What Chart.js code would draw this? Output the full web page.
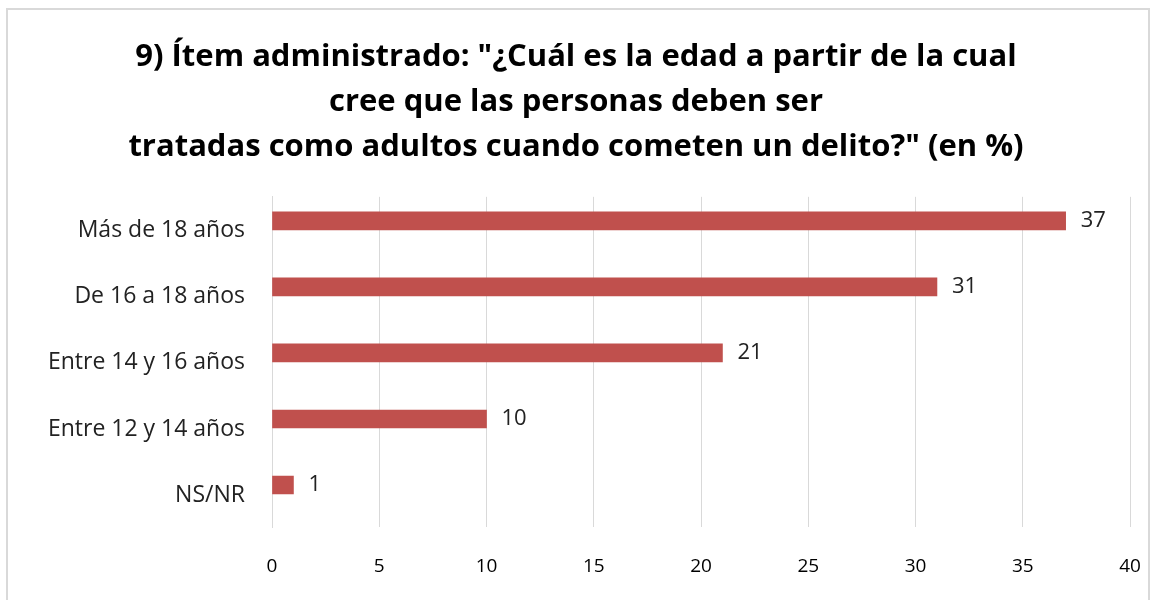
<!DOCTYPE html>
<html>
<head>
<meta charset="utf-8">
<script src="https://cdn.jsdelivr.net/npm/chart.js@4/dist/chart.umd.min.js"></script>
<style>
  body { margin: 0; background: #fff; }
  #box { position: absolute; left: 6px; top: 8px; width: 1140px; height: 590px; border: 2px solid #d9d9d9; background: #fff; }
  canvas { display: block; }
</style>
</head>
<body>
<div id="box"><canvas id="barChart" width="1140" height="590"></canvas></div>
<script>
const categories = ['Más de 18 años', 'De 16 a 18 años', 'Entre 14 y 16 años', 'Entre 12 y 14 años', 'NS/NR'];
const values = [37, 31, 21, 10, 1];
// the original sheet has a second, empty series, which pushes the bars up in each row
const emptySeries = [null, null, null, null, null];
const titleLines = [
    '9) Ítem administrado: "¿Cuál es la edad a partir de la cual',
    'cree que las personas deben ser',
    'tratadas como adultos cuando cometen un delito?" (en %)'
];

// numbers next to the end of each bar
const valueLabels = {
    id: 'valueLabels',
    afterDatasetsDraw(chart) {
        const c = chart.ctx;
        const meta = chart.getDatasetMeta(0);
        c.save();
        c.font = '22px "Open Sans"';
        c.fillStyle = '#222';
        c.textAlign = 'left';
        c.textBaseline = 'middle';
        meta.data.forEach((bar, i) => {
            c.fillText(values[i], bar.x + 15, bar.y);
        });
        c.restore();
    }
};

const ctx = document.getElementById('barChart').getContext('2d');
const barChart = new Chart(ctx, {
    type: 'bar',
    data: {
        labels: categories,
        datasets: [{
            data: values,
            backgroundColor: '#c0504d',
            borderWidth: 0,
            barThickness: 18
        }, {
            data: emptySeries,
            backgroundColor: '#4f81bd',
            borderWidth: 0,
            barThickness: 18
        }]
    },
    options: {
        indexAxis: 'y',
        responsive: false,
        animation: false,
        layout: {
            padding: { left: 14, right: 18, top: 0, bottom: 21 }
        },
        plugins: {
            legend: { display: false },
            tooltip: { enabled: false },
            title: {
                display: true,
                text: titleLines,
                color: '#000',
                padding: { top: 25, bottom: 27 },
                font: {
                    size: 31,
                    family: 'Open Sans',
                    weight: 'bold',
                    lineHeight: 1.45
                }
            }
        },
        scales: {
            x: {
                min: 0,
                max: 40,
                afterFit(scale) {
                    scale.height = 52;
                    scale.paddingLeft = 0;
                    scale.paddingRight = 0;
                },
                ticks: {
                    stepSize: 5,
                    color: '#000',
                    padding: 28,
                    font: { size: 19, family: 'Open Sans' }
                },
                grid: { color: '#d9d9d9', drawTicks: false },
                border: { display: false }
            },
            y: {
                afterFit(scale) {
                    scale.width = 250;
                    scale.paddingTop = 0;
                    scale.paddingBottom = 0;
                },
                ticks: {
                    color: '#222',
                    padding: 27,
                    labelOffset: 1,
                    font: { size: 23, family: 'Open Sans' }
                },
                grid: { display: false, drawTicks: false },
                border: { color: '#d9d9d9' }
            }
        }
    },
    plugins: [valueLabels]
});
</script>
</body>
</html>
